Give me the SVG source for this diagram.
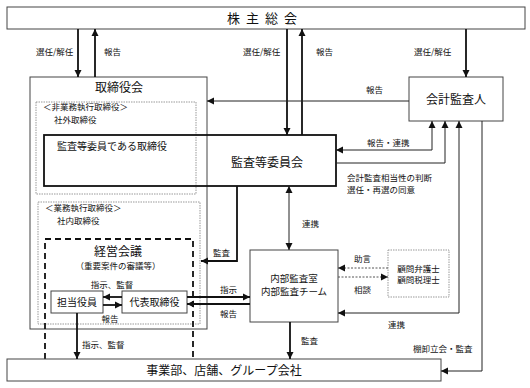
<svg xmlns="http://www.w3.org/2000/svg" width="530" height="388" viewBox="0 0 530 388">
<style>
text{font-family:"Noto Sans CJK JP","Noto Sans",sans-serif;fill:#111}
.s{font-size:8.5px}
.m{font-size:10px}
.l{font-size:12px}
.xl{font-size:13px}
.box{fill:#fff;stroke:#444;stroke-width:1}
.dot{fill:none;stroke:#999;stroke-width:1;stroke-dasharray:1.5,1}
.ln{fill:none;stroke:#222;stroke-width:1}
.th{fill:none;stroke:#111;stroke-width:1.8}
.dl{fill:none;stroke:#555;stroke-width:1;stroke-dasharray:2,1.5}
</style>
<defs>
<marker id="a" markerWidth="8" markerHeight="8" refX="7" refY="4" orient="auto" markerUnits="userSpaceOnUse"><path d="M0,0.5 L7,4 L0,7.5 z" fill="#111"/></marker>
<marker id="as" markerWidth="8" markerHeight="8" refX="1" refY="4" orient="auto" markerUnits="userSpaceOnUse"><path d="M8,0.5 L1,4 L8,7.5 z" fill="#111"/></marker>
</defs>

<g id="shareholders">
<rect class="box" x="7" y="7" width="518" height="22"/>
<text class="xl" x="265" y="23" text-anchor="middle" letter-spacing="6">株主総会</text>
</g>

<g id="board">
<rect class="box" x="30" y="77" width="177" height="252"/>
<text class="l" x="119" y="92" text-anchor="middle">取締役会</text>
</g>

<g id="nonexec">
<rect class="dot" x="36" y="102" width="160" height="92"/>
<text class="s" x="43" y="110">＜非業務執行取締役＞</text>
<text class="s" x="54" y="123">社外取締役</text>
</g>

<g id="exec">
<rect class="dot" x="38" y="202" width="162" height="122"/>
<text class="s" x="45" y="211">＜業務執行取締役＞</text>
<text class="s" x="57" y="224">社内取締役</text>
</g>

<g id="audit-committee">
<rect x="44" y="135" width="292" height="51" fill="none" stroke="#111" stroke-width="1.8"/>
<text class="m" x="57" y="150">監査等委員である取締役</text>
<text class="l" x="267" y="167" text-anchor="middle">監査等委員会</text>
</g>

<g id="management-meeting">
<rect x="45" y="239" width="148" height="122" fill="none" stroke="#111" stroke-width="1.8" stroke-dasharray="6,4"/>
<text class="l" x="118" y="256" text-anchor="middle">経営会議</text>
<text class="s" x="118" y="269" text-anchor="middle">（重要案件の審議等）</text>
<text class="s" x="112" y="288" text-anchor="middle">指示、監督</text>
<text class="s" x="110" y="322" text-anchor="middle">報告</text>
</g>

<g id="officer">
<rect class="box" x="51" y="291" width="52" height="22"/>
<text class="m" x="77" y="306" text-anchor="middle">担当役員</text>
</g>

<g id="ceo">
<rect class="box" x="122" y="291" width="65" height="22"/>
<text class="m" x="154.5" y="306" text-anchor="middle">代表取締役</text>
</g>

<g id="accounting-auditor">
<rect class="box" x="409" y="77" width="94" height="44"/>
<text class="l" x="456" y="104" text-anchor="middle">会計監査人</text>
</g>

<g id="internal-audit">
<rect class="box" x="250" y="250" width="88" height="72"/>
<text x="294" y="282" text-anchor="middle" font-size="9.5">内部監査室</text>
<text x="294" y="295" text-anchor="middle" font-size="9.5">内部監査チーム</text>
</g>

<g id="advisors">
<rect class="dot" x="388" y="250" width="61" height="47"/>
<text class="s" x="418.5" y="272" text-anchor="middle">顧問弁護士</text>
<text class="s" x="418.5" y="283" text-anchor="middle">顧問税理士</text>
</g>

<g id="business">
<rect class="box" x="7" y="359" width="434" height="22"/>
<text class="l" x="224" y="375" text-anchor="middle">事業部、店舗、グループ会社</text>
</g>

<g id="connectors">
<line class="th" x1="78" y1="29" x2="78" y2="77" marker-end="url(#a)"/>
<line class="th" x1="95" y1="77" x2="95" y2="29" marker-end="url(#a)"/>
<line class="th" x1="287" y1="29" x2="287" y2="135" marker-end="url(#a)"/>
<line class="th" x1="302" y1="135" x2="302" y2="29" marker-end="url(#a)"/>
<line class="th" x1="466" y1="29" x2="466" y2="77" marker-end="url(#a)"/>
<line class="ln" x1="409" y1="101" x2="207" y2="101" marker-end="url(#a)"/>
<polyline class="ln" points="336,150 432,150 432,121" marker-start="url(#as)" marker-end="url(#a)"/>
<polyline class="ln" points="336,163 445,163 445,121" marker-end="url(#a)"/>
<polyline class="ln" points="338,313 459,313 459,121" marker-start="url(#as)" marker-end="url(#a)"/>
<polyline class="ln" points="482,121 482,371 441,371" marker-end="url(#a)"/>
<polyline class="th" points="237,186 237,261 201,261" marker-end="url(#a)"/>
<line class="ln" x1="289" y1="186" x2="289" y2="250" marker-start="url(#as)" marker-end="url(#a)"/>
<line class="dl" x1="388" y1="268" x2="338" y2="268" marker-end="url(#a)"/>
<line class="dl" x1="338" y1="277" x2="388" y2="277" marker-end="url(#a)"/>
<line class="th" x1="122" y1="297" x2="103" y2="297" marker-end="url(#a)"/>
<line class="th" x1="103" y1="305" x2="122" y2="305" marker-end="url(#a)"/>
<line class="th" x1="187" y1="297" x2="250" y2="297" marker-end="url(#a)"/>
<line class="th" x1="250" y1="304" x2="187" y2="304" marker-end="url(#a)"/>
<line class="th" x1="77" y1="313" x2="77" y2="359" marker-end="url(#a)"/>
<line class="th" x1="290" y1="322" x2="290" y2="359" marker-end="url(#a)"/>
</g>

<g id="labels">
<text class="s" x="36" y="55">選任/解任</text>
<text class="s" x="104" y="55">報告</text>
<text class="s" x="243" y="55">選任/解任</text>
<text class="s" x="316" y="55">報告</text>
<text class="s" x="414" y="55">選任/解任</text>
<text class="s" x="366" y="93">報告</text>
<text class="s" x="367" y="146">報告・連携</text>
<text class="s" x="347" y="181">会計監査相当性の判断</text>
<text class="s" x="347" y="193">選任・再選の同意</text>
<text class="s" x="213" y="256">監査</text>
<text class="s" x="302" y="227">連携</text>
<text class="s" x="354" y="262">助言</text>
<text class="s" x="354" y="293">相談</text>
<text class="s" x="220" y="293">指示</text>
<text class="s" x="220" y="317">報告</text>
<text class="s" x="388" y="328">連携</text>
<text class="s" x="301" y="344">監査</text>
<text class="s" x="413" y="352">棚卸立会・監査</text>
<text class="s" x="82" y="348">指示、監督</text>
</g>
</svg>
